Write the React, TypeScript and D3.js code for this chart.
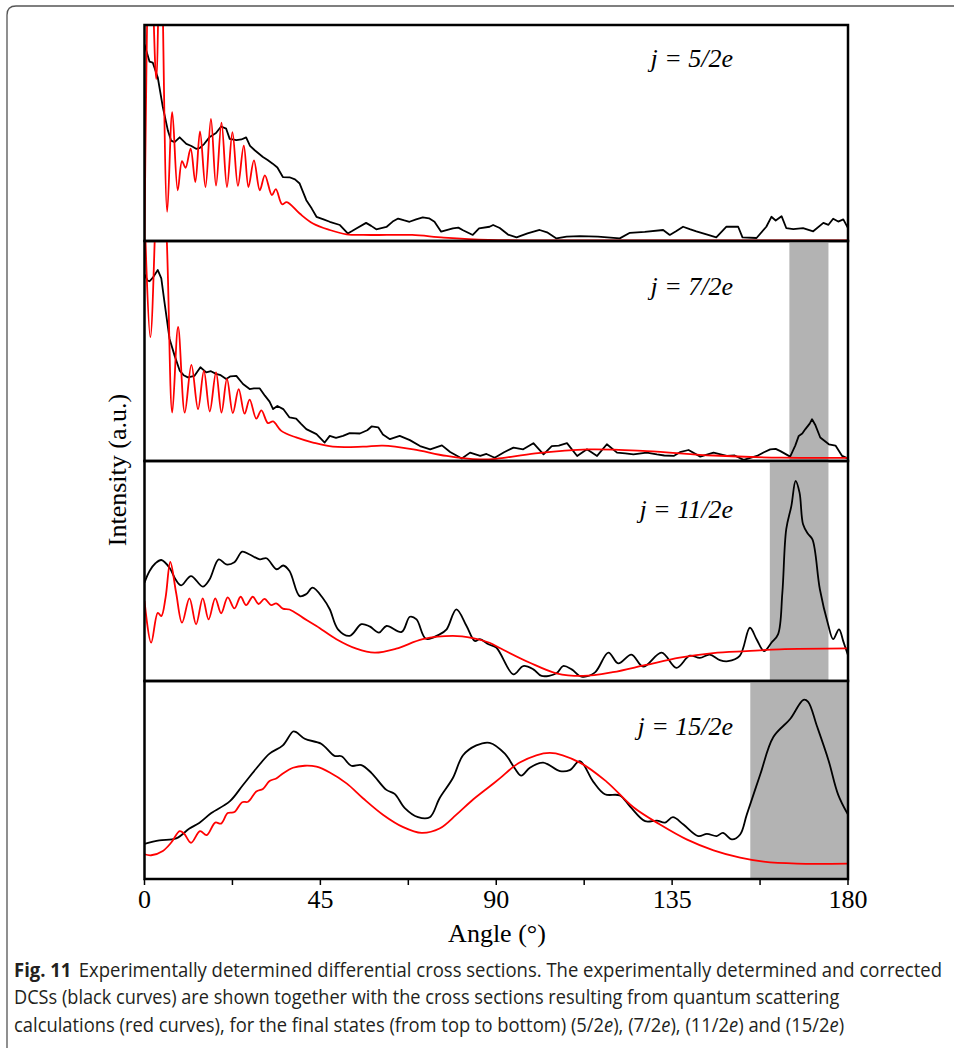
import { useEffect, useRef } from 'react';
import * as d3 from 'd3';

type Pt = [number, number];

// Angles in degrees, intensity in panel units (0 = panel floor, 100 = panel ceiling)
const exp52: Pt[] = [
  [0, 91], [1.3, 83], [2.1, 82.6], [3.4, 75.7], [4.7, 61.9], [6.0, 51], [6.8, 46.5], [7.7, 45.8],
  [9.0, 48], [10.7, 45], [12.0, 44], [13.2, 42.7], [14.1, 43], [15.3, 45], [16.6, 48], [18.3, 50],
  [19.6, 53], [20.9, 52], [21.8, 47.3], [23.5, 46.7], [24.8, 47], [26.0, 48], [27.0, 44], [28.2, 42],
  [30.3, 38.9], [31.5, 37.5], [32.8, 35.8], [34.0, 34], [35.4, 29.6], [37.1, 29.5], [38.5, 28.5],
  [39.7, 26.6], [41.4, 18.9], [42.8, 15], [44.0, 11.2], [45.8, 10], [47.4, 8.9], [50.0, 7.4],
  [52.0, 3.5], [53.0, 4.5], [54.2, 5.8], [56.7, 8.4], [58.0, 7], [59.3, 5.4], [61.9, 6.5], [63.5, 9],
  [64.9, 10.4], [66.5, 9.5], [67.8, 8.9], [69.5, 10], [71.2, 10.9], [72.8, 10.5], [74.2, 8.9],
  [75.9, 4.3], [78.9, 5.8], [80.3, 6.2], [81.5, 5], [84.0, 2.8], [85.6, 5.8], [88.3, 6.6], [89.2, 7.4],
  [90.9, 6], [93, 3], [95.2, 1.7], [98, 3.5], [101.1, 5.1], [103, 4], [105.4, 1.2], [108, 2],
  [111.4, 2.3], [116, 2], [121.6, 1.2], [124.2, 3.8], [128, 4.2], [132.7, 5.1], [134.4, 2.8], [136, 4.5],
  [137.8, 6.6], [139.5, 5.5], [141.2, 4.5], [144, 3], [146.3, 1.7], [148.9, 6.6], [151.9, 6.6],
  [153.0, 1.7], [156.6, 1.4], [159.1, 6.6], [160.4, 11.2], [161.5, 9.5], [163.0, 11.5], [164.2, 6],
  [166, 5.5], [168.5, 6], [171.1, 4.5], [173.7, 8.4], [175, 7.5], [176.2, 10.3], [177.5, 9],
  [178.8, 10], [180, 6],
];

const calc52: Pt[] = [
  [0, 0], [1.4, 150], [3.0, 75], [4.1, 150], [5.8, 13.5], [7.1, 59.6], [8.5, 23.5], [9.6, 37],
  [10.5, 33.9], [11.8, 42.7], [13.0, 27.3], [14.2, 50.7], [15.6, 25], [17.0, 56.5], [18.3, 25.6],
  [19.7, 54.8], [21.1, 25], [22.5, 50.4], [23.9, 25.5], [25.4, 44.2], [26.6, 25], [28.0, 37.3],
  [29.5, 23.5], [30.8, 30.4], [32.6, 21.2], [33.6, 24], [35.2, 17], [36.4, 18], [39.7, 12.7],
  [43.1, 8.1], [47.4, 5.1], [51.7, 3.1], [56, 2.8], [62, 2.8], [68.5, 2.8], [76.6, 1.6], [88, 0.5],
  [100, 0.3], [180, 0.3],
];

const exp72: Pt[] = [
  [0, 84.8], [0.8, 82], [1.3, 81.7], [2.2, 83.5], [3.4, 86.8], [4.3, 83], [5.1, 72.3], [6.4, 55.6],
  [7.7, 47.9], [9.0, 41.1], [10, 39], [11.1, 38], [12.8, 38.7], [14.3, 42.6], [15.8, 40.3], [17, 40.8],
  [18.3, 39.6], [19.5, 39], [20.9, 37.3], [22, 38.5], [23.5, 38.7], [25.2, 35], [26.9, 32.7], [28, 33],
  [29.5, 33], [30.8, 29.7], [32, 27], [32.9, 23.6], [34, 25], [35.5, 23.6], [37.1, 19.8], [38.8, 19.3],
  [40, 17], [41.4, 14.5], [44.0, 12.2], [46.1, 8.4], [47.4, 11.4], [49, 10.5], [50.8, 11.4],
  [52.5, 12.7], [55.1, 12.5], [57, 14], [58.1, 15.7], [59.8, 15.3], [61, 12], [62.8, 9.9], [65.3, 11.4],
  [67.9, 9.5], [70.5, 6.8], [73.1, 5.3], [76.1, 7.1], [78.2, 4.1], [81.2, 1.1], [83.3, 3.8],
  [85.9, 2.3], [87.5, 3.2], [89.6, 1.5], [92, 4], [94.4, 6.1], [96.9, 5.3], [99.5, 8.1], [102.1, 3],
  [104.2, 6.8], [106, 7], [108.1, 8.1], [110.7, 2.3], [113.2, 5.3], [115.8, 2.3], [118.3, 7.6],
  [120.9, 3.8], [123, 3.5], [125.1, 3], [128.5, 3.8], [131.1, 3], [133, 2.5], [135.4, 2.3], [137, 4],
  [139.2, 5], [142.2, 2], [145.6, 3.8], [149.0, 2.3], [151, 2.5], [153.3, 0.5], [156.7, 2.3],
  [158.5, 4], [160.1, 5.3], [161.5, 5.5], [162.7, 4.5], [165.2, 2], [166.5, 7], [167.4, 11.4],
  [168.3, 12.5], [169.1, 14.5], [170.2, 17], [170.8, 19], [171.6, 16.5], [172.9, 10.7], [175.1, 7.6],
  [176.8, 7], [178.5, 2.3], [180, 1.1],
];

const calc72: Pt[] = [
  [0, 115], [1.5, 56.3], [3.9, 150], [5.6, 105], [7.1, 22], [8.6, 60.9], [10.3, 22], [12.0, 43.7],
  [13.7, 23.6], [15.2, 41], [16.7, 22.5], [18.3, 40.3], [19.7, 22], [21.1, 37.3], [22.6, 21.8],
  [24.1, 32.7], [25.6, 21.5], [26.9, 27.9], [28.6, 19.3], [29.9, 23], [31.6, 17.2], [32.9, 18],
  [35, 13.7], [38.8, 10.7], [43.1, 8.4], [48.2, 6.5], [55.9, 6.5], [61, 7], [68.8, 5.3], [77.3, 2.3],
  [85.8, 0.7], [90, 1], [100, 3.5], [113.6, 5.3], [128.5, 4.5], [145.6, 2.5], [163, 1.5], [180, 1.4],
];

const exp112: Pt[] = [
  [0, 44.7], [1.3, 50], [2.8, 53.5], [4.3, 55], [6.4, 51.5], [8, 46], [9.4, 43.5], [11.9, 47.7],
  [14.9, 42.9], [16.6, 46], [19.0, 55.3], [20.9, 53], [23.0, 54], [25.0, 58.8], [26.9, 57.5],
  [29.5, 55.3], [31.2, 55.8], [33.8, 50.8], [35.5, 52.5], [37.1, 50], [39.7, 38.6], [41.4, 39.5],
  [43.0, 42.4], [45.7, 37.5], [47.4, 32.6], [49.5, 23.5], [52.5, 20.5], [55.5, 25.8], [57.6, 24.8],
  [60.0, 22], [61.9, 25], [65.8, 22.3], [67.9, 29.2], [69.6, 28], [72.0, 19.2], [75.5, 21.2],
  [77.3, 23.5], [79.8, 32.6], [82.4, 25], [84.5, 18.2], [85.8, 19], [88, 16.7], [90, 15.2], [94.4, 3],
  [96.9, 6.8], [99.5, 5.3], [101.6, 2.3], [105.4, 3.5], [107.1, 6.8], [109.3, 5.3], [111.8, 2],
  [115.2, 3.8], [118.7, 12.9], [121.2, 8], [124.6, 12], [127.6, 6.5], [132.3, 12.9], [136.1, 6],
  [139.5, 11.5], [142.1, 10.5], [144.6, 12], [147.2, 9.5], [149.3, 9], [152.3, 11.4], [154.9, 24.2],
  [156.6, 19], [158.5, 13.6], [160.4, 17.4], [162.1, 21.2], [163.2, 40], [164.2, 69], [165.5, 79.5],
  [166.6, 90.9], [167.6, 85.6], [168.5, 71.2], [169.7, 67], [170.9, 64.4], [172.8, 41.7],
  [174.9, 25.8], [176.2, 19], [177.7, 23.5], [178.8, 18], [180, 11.7],
];

const calc112: Pt[] = [
  [0, 36.4], [1.7, 17.4], [3.4, 31], [4.3, 29.5], [5.4, 38], [6.6, 54.1], [8.1, 40], [9.6, 26.5],
  [11.5, 37.6], [13.2, 25.8], [14.9, 37.6], [16.4, 28], [18.1, 37.6], [19.6, 30.8], [21.3, 38],
  [23.0, 33], [24.6, 38.3], [26.0, 34.5], [27.7, 38.3], [29.2, 35], [30.7, 37.3], [32.4, 34.5],
  [33.7, 35.3], [35.4, 32.9], [37.1, 32.5], [40.5, 28.8], [44.0, 25], [49.1, 19], [54.2, 14.7],
  [58.9, 12.9], [64.4, 14.7], [71.2, 19], [78.9, 20.5], [84.0, 19.5], [88.3, 17.4], [90.9, 15],
  [98.6, 8.3], [105.4, 3.5], [112.2, 2.3], [119.8, 4], [128.3, 7.3], [136.9, 10.6], [145.5, 12.7],
  [154, 13.6], [162.5, 14.4], [180, 14.8],
];

const exp152: Pt[] = [
  [0, 17.8], [3.8, 19.5], [8.1, 20.5], [11.5, 25.5], [14.0, 28.3], [17.1, 33.3], [21.8, 39.2],
  [25.2, 47.5], [28.6, 55.8], [32.0, 63.3], [35.4, 67.5], [38.0, 74.5], [38.8, 74.2], [41.0, 70.8],
  [45.2, 68.3], [48.6, 62.2], [50.4, 62], [52.9, 57.2], [55.5, 57.5], [58.1, 53.5], [61.9, 45],
  [64.0, 43], [66.6, 35.8], [70.0, 31.2], [73.0, 31.2], [75.5, 40.8], [78.9, 51], [81.5, 62.5],
  [84.9, 67.5], [88.3, 68.8], [92.2, 63.3], [94.7, 56], [96.4, 52.2], [98.6, 56.2], [102, 58.8],
  [106.3, 54.5], [108.8, 55], [111.4, 59.5], [114.8, 49.2], [117.8, 42.8], [121.6, 42.2],
  [124.2, 36.7], [128.1, 29.2], [131.1, 29.5], [133.2, 28.5], [135.2, 31.2], [137.9, 27.5],
  [141.7, 21.7], [143.9, 22.8], [146.4, 21.7], [148.0, 23.3], [150.3, 20], [152.4, 22.5],
  [154.1, 32.5], [157.5, 52.5], [160.9, 71.7], [165.2, 80.8], [168.6, 90.5], [169.8, 89.5],
  [172.0, 77.5], [175.0, 60], [177.5, 42.5], [180, 32.5],
];

const calc152: Pt[] = [
  [0, 12.5], [1.7, 12], [4.7, 14.2], [6.8, 18.3], [9.0, 24.2], [10.1, 23], [11.9, 18.3], [14.2, 24.2],
  [15.9, 22.2], [18.1, 28.5], [19.6, 28], [21.3, 33.3], [23.0, 33.8], [25.0, 38.8], [26.5, 39],
  [28.6, 44.2], [30.3, 45.5], [32.0, 49.5], [33.7, 50.8], [35.4, 53.3], [38.0, 56.2], [41.0, 57.2],
  [44.0, 56.7], [47.4, 53.8], [51.7, 48.3], [55.9, 40.8], [61.0, 32.5], [66.2, 26.2], [70.9, 23.3],
  [75.5, 25.5], [79.8, 32.5], [84.0, 40], [88.3, 46.7], [90.9, 50.8], [96, 58.8], [103.7, 63.7],
  [111.4, 58.8], [118.2, 49.2], [125.1, 36.2], [131.9, 27.5], [138.7, 20], [145.6, 14.5],
  [152.4, 10.8], [158.4, 8.8], [166.9, 7.8], [180, 7.8],
];

const stateLabels = ['5/2e', '7/2e', '11/2e', '15/2e'];
// shaded angular windows (degrees) per panel, null = none
const bands: ([number, number] | null)[] = [null, [165, 175], [160, 175], [155, 180]];
const xTicks = [0, 22.5, 45, 67.5, 90, 112.5, 135, 157.5, 180];
const xTickLabels = [0, 45, 90, 135, 180];

const panels = [
  { exp: exp52, calc: calc52, smooth: false },
  { exp: exp72, calc: calc72, smooth: false },
  { exp: exp112, calc: calc112, smooth: true },
  { exp: exp152, calc: calc152, smooth: true },
];

const W = 954;
const H = 1048;
const left = 144.5;
const right = 848;
const panelEdges = [25, 241, 461, 681, 879];
const labelDy = [42, 54, 57, 54];
const serif = '"Liberation Serif", "Times New Roman", serif';

export default function App() {
  const svgRef = useRef<SVGSVGElement>(null);

  useEffect(() => {
    if (!svgRef.current) return;
    const svg = d3.select(svgRef.current);
    svg.selectAll('*').remove();

    // figure frame
    svg.append('path')
      .attr('d', `M7,${H} V15 Q7,6 16,6 H${W}`)
      .attr('fill', 'none')
      .attr('stroke', '#555')
      .attr('stroke-width', 1.3);

    const x = d3.scaleLinear().domain([0, 180]).range([left, right]);
    const defs = svg.append('defs');

    panels.forEach((p, i) => {
      const top = panelEdges[i];
      const bottom = panelEdges[i + 1];
      const y = d3.scaleLinear().domain([0, 100]).range([bottom, top]);
      const g = svg.append('g');

      defs.append('clipPath')
        .attr('id', `clip${i}`)
        .append('rect')
        .attr('x', left)
        .attr('y', top)
        .attr('width', right - left)
        .attr('height', bottom - top);

      const band = bands[i];
      if (band) {
        g.append('rect')
          .attr('x', x(band[0]))
          .attr('y', top)
          .attr('width', x(band[1]) - x(band[0]))
          .attr('height', bottom - top)
          .attr('fill', '#b3b3b3');
      }

      const plot = g.append('g').attr('clip-path', `url(#clip${i})`);

      const smoothLine = d3.line<Pt>()
        .x(d => x(d[0]))
        .y(d => y(d[1]))
        .curve(d3.curveCatmullRom.alpha(0.5));
      const rawLine = d3.line<Pt>()
        .x(d => x(d[0]))
        .y(d => y(d[1]));

      plot.append('path')
        .attr('d', (p.smooth ? smoothLine : rawLine)(p.exp))
        .attr('fill', 'none')
        .attr('stroke', '#000')
        .attr('stroke-width', 1.8)
        .attr('stroke-linejoin', 'round');

      plot.append('path')
        .attr('d', smoothLine(p.calc))
        .attr('fill', 'none')
        .attr('stroke', '#ff0000')
        .attr('stroke-width', 1.8);

      g.append('rect')
        .attr('x', left)
        .attr('y', top)
        .attr('width', right - left)
        .attr('height', bottom - top)
        .attr('fill', 'none')
        .attr('stroke', '#000')
        .attr('stroke-width', 2.5);

      g.append('text')
        .attr('x', 733)
        .attr('y', top + labelDy[i])
        .attr('text-anchor', 'end')
        .attr('font-family', serif)
        .attr('font-style', 'italic')
        .attr('font-size', 26)
        .text(`j = ${stateLabels[i]}`);
    });

    const base = panelEdges[panelEdges.length - 1];
    const axis = svg.append('g');
    axis.selectAll('line.tick')
      .data(xTicks)
      .enter()
      .append('line')
      .attr('class', 'tick')
      .attr('x1', d => x(d))
      .attr('x2', d => x(d))
      .attr('y1', base)
      .attr('y2', base + 6)
      .attr('stroke', '#000')
      .attr('stroke-width', 1.5);

    axis.selectAll('text.lbl')
      .data(xTickLabels)
      .enter()
      .append('text')
      .attr('class', 'lbl')
      .attr('x', d => x(d))
      .attr('y', 908)
      .attr('text-anchor', 'middle')
      .attr('font-family', serif)
      .attr('font-size', 26)
      .text(d => d);

    svg.append('text')
      .attr('x', 497)
      .attr('y', 942)
      .attr('text-anchor', 'middle')
      .attr('font-family', serif)
      .attr('font-size', 26)
      .text('Angle (°)');

    svg.append('text')
      .attr('transform', 'translate(126,470) rotate(-90)')
      .attr('text-anchor', 'middle')
      .attr('font-family', serif)
      .attr('font-size', 26)
      .text('Intensity (a.u.)');

    // caption: condensed look by squeezing each line horizontally to its measured width
    const cap = svg.append('g')
      .attr('font-family', '"Open Sans", "Noto Sans", sans-serif')
      .attr('font-size', 20)
      .attr('fill', '#231f20');

    const fitLine = (t: d3.Selection<SVGTextElement, unknown, null, undefined>, y: number, width: number) => {
      const box = t.node()!.getBBox();
      t.attr('transform', `translate(14,${y}) scale(${width / box.width},1)`);
    };

    const l1 = cap.append('text').attr('x', 0).attr('y', 0);
    l1.append('tspan').attr('font-weight', 'bold').text('Fig. 11');
    l1.append('tspan').attr('dx', 8)
      .text('Experimentally determined differential cross sections. The experimentally determined and corrected');
    fitLine(l1, 977, 928);

    const l2 = cap.append('text').attr('x', 0).attr('y', 0)
      .text('DCSs (black curves) are shown together with the cross sections resulting from quantum scattering');
    fitLine(l2, 1004, 826);

    const l3 = cap.append('text').attr('x', 0).attr('y', 0);
    l3.append('tspan').text('calculations (red curves), for the final states (from top to bottom) ');
    stateLabels.forEach((s, i) => {
      const sep = i === 0 ? '' : i === stateLabels.length - 1 ? ' and ' : ', ';
      l3.append('tspan').text(`${sep}(${s.slice(0, -1)}`);
      l3.append('tspan').attr('font-style', 'italic').text('e');
      l3.append('tspan').text(')');
    });
    fitLine(l3, 1032, 831);
  }, []);

  return (
    <div style={{ position: 'absolute', left: 0, top: 0 }}>
      <svg ref={svgRef} width={W} height={H} style={{ display: 'block', background: '#fff' }} />
    </div>
  );
}
